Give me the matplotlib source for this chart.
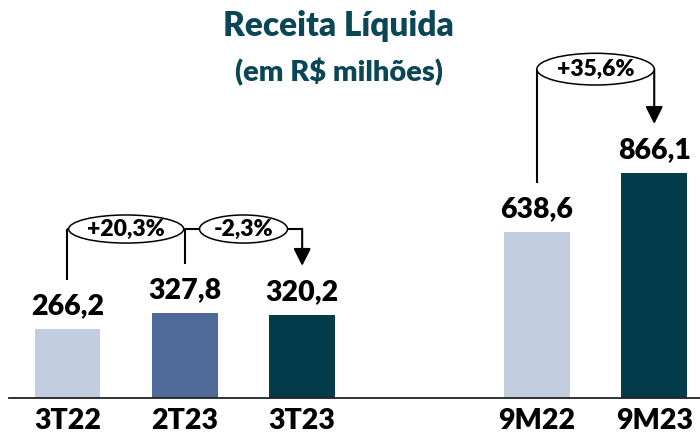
import matplotlib.pyplot as plt
from matplotlib.patches import Ellipse

# dados (R$ milhões)
categories = ['3T22', '2T23', '3T23', '9M22', '9M23']
values = [266.2, 327.8, 320.2, 638.6, 866.1]
groups = [0, 0, 0, 1, 1]
colors = ['#c3cde0', '#4d6a99', '#043b4a', '#c3cde0', '#043b4a']

# variações: (texto, de, para)
changes = [('+20,3%', 0, 1), ('-2,3%', 1, 2), ('+35,6%', 3, 4)]
change_levels = [650, 650, 1265]
ellipse_w = [0.98, 0.75, 1.0]
ellipse_h = [108, 108, 122]

plt.rcParams['font.family'] = ['Lato', 'DejaVu Sans']
title_color = '#0b4656'
wt = 'heavy'

fig = plt.figure(figsize=(7, 4.34), dpi=100)
ax = fig.add_axes([0, 0, 1, 1])
ax.set_xlim(-0.575, 5.39)
ax.set_ylim(-138.5, 1531)
ax.axis('off')

xs = [i + g for i, g in enumerate(groups)]
ax.bar(xs, values, width=0.56, color=colors, zorder=2)
ax.axhline(0, xmin=0.013, xmax=1, color='#222222', lw=1.3, zorder=3)

for x, v, c in zip(xs, values, categories):
    ax.text(x, v + 58, f'{v:.1f}'.replace('.', ','), ha='center', va='baseline',
            fontsize=20.5, fontweight=wt, color='black')
    ax.text(x, -121, c, ha='center', va='baseline', fontsize=20.5,
            fontweight=wt, color='black')

# colchetes e setas das variações
off = 188
for k, (txt, i, j) in enumerate(changes):
    lvl = change_levels[k]
    xi, xj = xs[i], xs[j]
    ax.plot([xi, xj], [lvl, lvl], color='black', lw=1.5, zorder=4,
            solid_capstyle='butt')
    if k == 0 or changes[k - 1][2] != i:
        ax.plot([xi, xi], [values[i] + off, lvl], color='black', lw=1.5,
                zorder=4, solid_capstyle='butt')
    last = k == len(changes) - 1 or changes[k + 1][1] != j
    if last:
        ax.annotate('', xy=(xj, values[j] + off), xytext=(xj, lvl + 1),
                    arrowprops=dict(arrowstyle='-|>,head_length=0.7,head_width=0.35',
                                    mutation_scale=15, lw=1.5, color='black',
                                    shrinkA=0, shrinkB=0), zorder=4)
    else:
        ax.plot([xj, xj], [values[j] + off, lvl], color='black', lw=1.5,
                zorder=4, solid_capstyle='butt')
    cx = (xi + xj) / 2
    ax.add_patch(Ellipse((cx, lvl), ellipse_w[k], ellipse_h[k], facecolor='white',
                         edgecolor='black', lw=1.1, zorder=5))
    ax.text(cx, lvl, txt, ha='center', va='center', fontsize=16.5,
            fontweight=wt, color='black', zorder=6)

fig.text(0.484, 1 - 36 / 434, 'Receita Líquida', ha='center', va='baseline',
         fontsize=24, fontweight=wt, color=title_color)
fig.text(0.484, 1 - 81 / 434, '(em R$ milhões)', ha='center', va='baseline',
         fontsize=21, fontweight=wt, color=title_color)

fig.savefig('out.png', dpi=100)
